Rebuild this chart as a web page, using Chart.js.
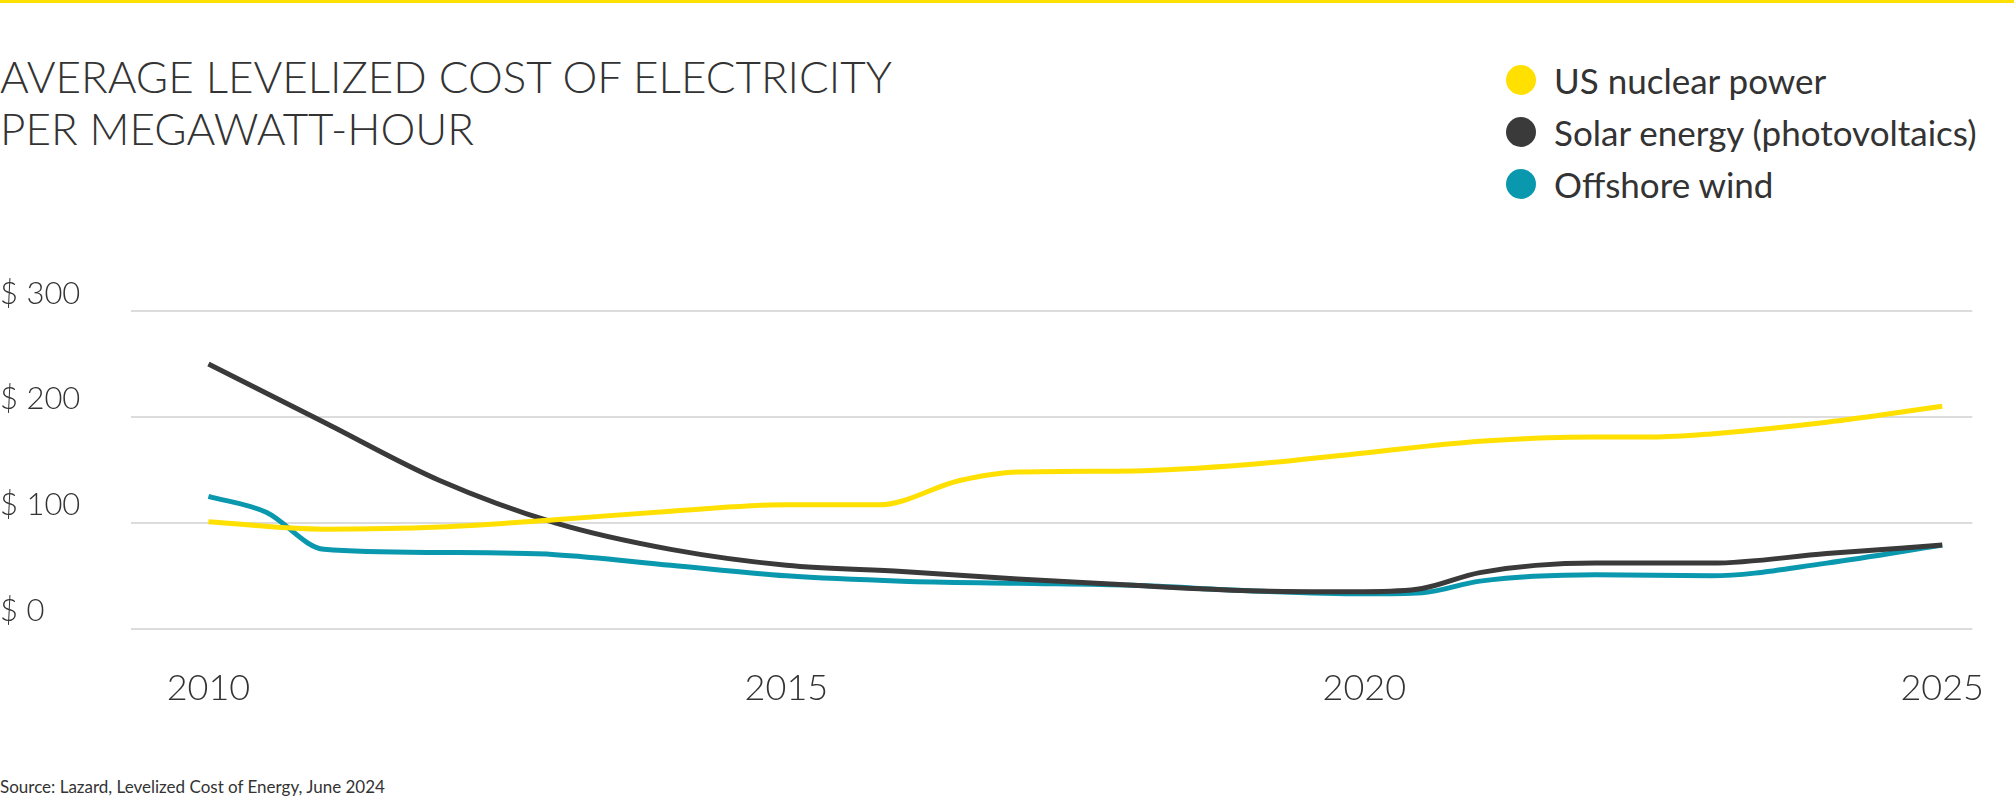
<!DOCTYPE html>
<html><head><meta charset="utf-8">
<script src="https://cdn.jsdelivr.net/npm/chart.js@4"></script>
<style>
html,body{margin:0;padding:0;width:2014px;height:800px;overflow:hidden;background:#fff;font-family:Lato,"Open Sans",sans-serif;color:#333}
#topline{position:absolute;left:0;top:0;width:2014px;height:3px;background:#FFE000}
#title{position:absolute;left:0;top:50px;font-size:44px;line-height:52px;font-weight:300;color:#333}
#legend{position:absolute;left:1506px;top:54px;font-size:35px;line-height:52px;color:#333}
#legend div{display:flex;align-items:center}
#legend span.d{display:inline-block;width:30px;height:30px;border-radius:50%;margin-right:18px}
#source{position:absolute;left:0;top:776px;font-size:17px;color:#333}
#wrap{position:absolute;left:0;top:0;width:2014px;height:800px}
</style></head><body>
<div id="topline"></div>
<div id="title">AVERAGE LEVELIZED COST OF ELECTRICITY<br>PER MEGAWATT-HOUR</div>
<div id="legend">
<div><span class="d" style="background:#FFE000"></span>US nuclear power</div>
<div><span class="d" style="background:#3a3a3a"></span>Solar energy (photovoltaics)</div>
<div><span class="d" style="background:#0a98ae"></span>Offshore wind</div>
</div>
<div id="source">Source: Lazard, Levelized Cost of Energy, June 2024</div>
<div id="wrap"><canvas id="c" width="2014" height="800"></canvas></div>
<script>
const xTicks = [2010, 2015, 2020, 2025];
const yTicks = [0, 100, 200, 300];
const nuclearX = [2010,2011,2012,2013,2014,2015,2015.8,2016.5,2017,2018,2019,2020,2021,2022,2022.5,2023,2024,2025];
const nuclearY = [101,94,96,103,111,117,117,140,148,149,155,166,177,181,181,184,195,210];
const solarX = [2010,2011,2012,2013,2014,2015,2016,2017,2018,2019,2020,2020.5,2021,2022,2023,2024,2025];
const solarY = [250,195,140,100,75,60,54,47,41,36,35,38,53,62,62,71,79];
const windX = [2010,2010.5,2011,2012,2013,2014,2015,2016,2017,2018,2019,2020,2020.5,2021,2022,2023,2024,2025];
const windY = [125,110,75,72,70,60,50,45,43,41,36,33,34,45,51,50,62,79];
const pts = (xs, ys) => xs.map((x, i) => ({x, y: ys[i]}));

const yLabels = {
  id: 'yLabels',
  afterDraw(chart) {
    const {ctx, scales: {y}} = chart;
    ctx.save();
    ctx.font = '300 31px Lato, sans-serif';
    ctx.fillStyle = '#333';
    ctx.textBaseline = 'bottom';
    ctx.textAlign = 'left';
    yTicks.forEach(v => ctx.fillText('$ ' + v, 0, y.getPixelForValue(v) - 2));
    ctx.restore();
  }
};

const ds = (label, data, color) => ({label, data, borderColor: color, borderWidth: 5, pointRadius: 0, tension: 0.4, cubicInterpolationMode: 'monotone', fill: false});

new Chart(document.getElementById('c'), {
  type: 'line',
  data: { datasets: [
    ds('US nuclear power', pts(nuclearX, nuclearY), '#FFE000'),
    ds('Solar energy (photovoltaics)', pts(solarX, solarY), '#3a3a3a'),
    ds('Offshore wind', pts(windX, windY), '#0a98ae')
  ]},
  options: {
    responsive: false, animation: false,
    layout: { padding: { left: 131, top: 311, right: 0, bottom: 60 } },
    plugins: { legend: { display: false }, tooltip: { enabled: false } },
    scales: {
      x: {
        type: 'linear', min: 2009.33, max: 2025.26,
        afterBuildTicks: s => { s.ticks = xTicks.map(v => ({value: v})); },
        grid: { display: false }, border: { display: false },
        ticks: { font: { family: 'Lato', size: 36, weight: 300 }, color: '#333', padding: 30, callback: v => String(v), maxRotation: 0 }
      },
      y: {
        min: 0, max: 300,
        afterBuildTicks: s => { s.ticks = yTicks.map(v => ({value: v})); },
        afterFit: s => { s.width = 0; },
        ticks: { display: false },
        grid: { color: '#dcdcdc', lineWidth: 2, drawTicks: false },
        border: { display: false }
      }
    }
  },
  plugins: [yLabels]
});
</script>
</body></html>
